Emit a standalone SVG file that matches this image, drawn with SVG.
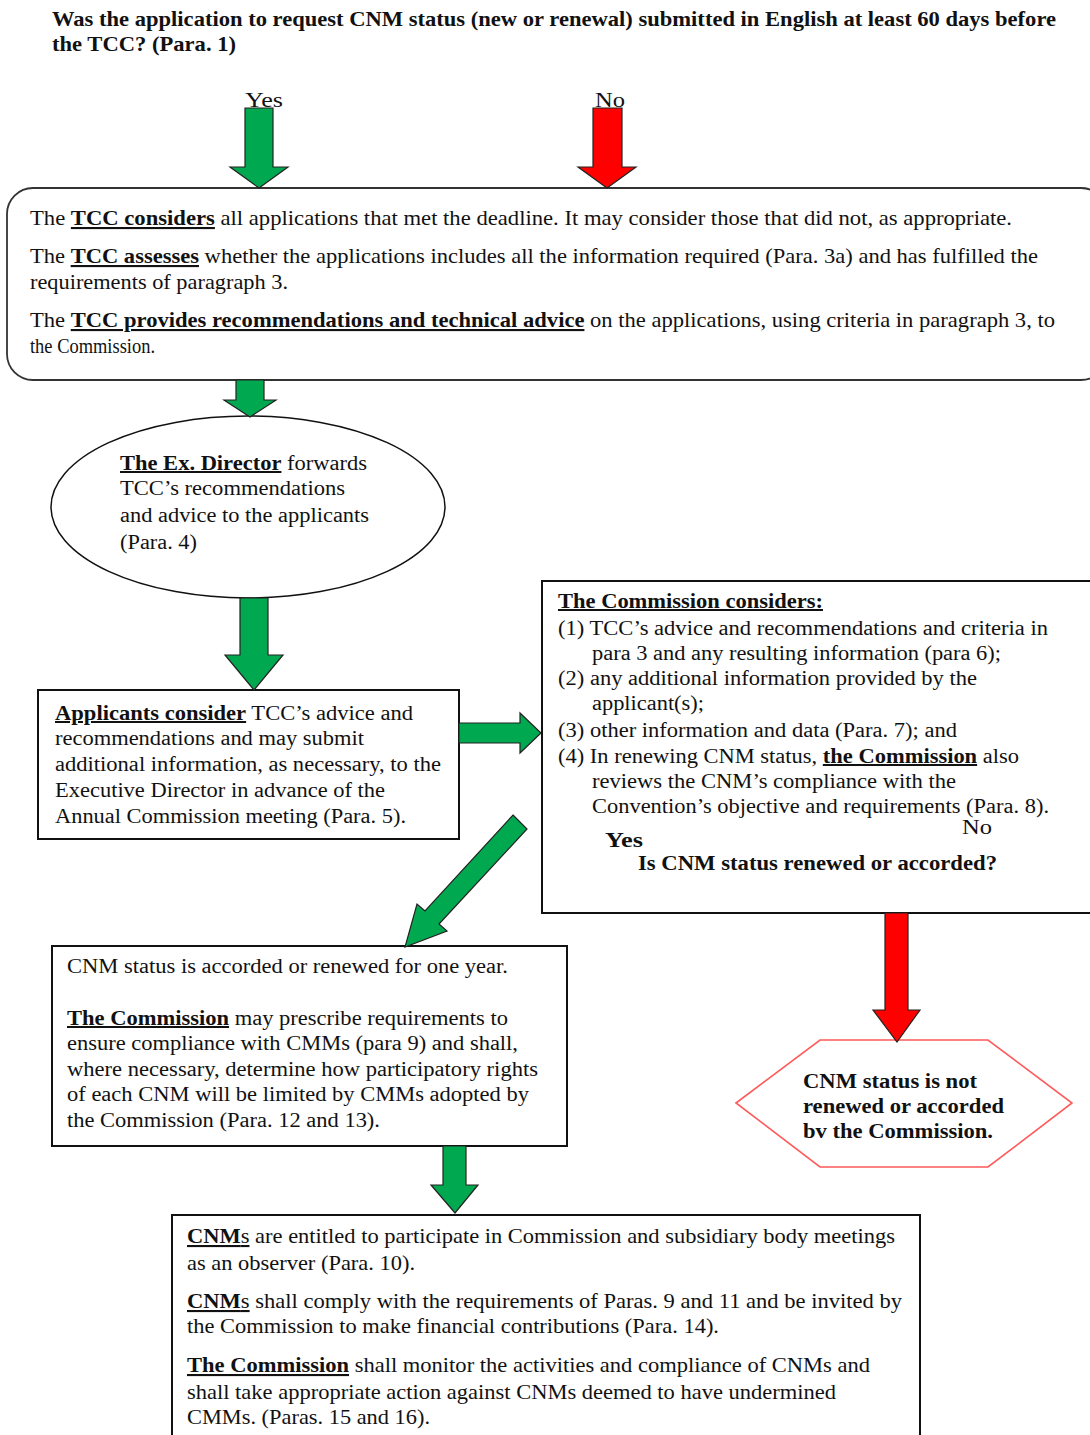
<svg xmlns="http://www.w3.org/2000/svg" width="1090" height="1435" viewBox="0 0 1090 1435">
<style>
.t{font-family:"Liberation Serif","Times New Roman",serif;font-size:20px;fill:#111}
.c{font-size:21px}
.b{font-weight:bold}
.u{text-decoration:underline}
.box{fill:#fff;stroke:#111;stroke-width:2}
.ga{fill:#00a94f;stroke:#222;stroke-width:1.2;stroke-linejoin:miter}
.ra{fill:#ff0000;stroke:#222;stroke-width:1.2;stroke-linejoin:miter}
</style>
<rect width="1090" height="1435" fill="#fff"/>

<g id="question">
<text class="t c b" x="52" y="26" textLength="1004" lengthAdjust="spacingAndGlyphs">Was the application to request CNM status (new or renewal) submitted in English at least 60 days before</text>
<text class="t c b" x="52" y="51" textLength="184" lengthAdjust="spacingAndGlyphs">the TCC? (Para. 1)</text>
<text class="t" x="245" y="107" style="font-size:22px" textLength="38" lengthAdjust="spacingAndGlyphs">Yes</text>
<text class="t" x="595" y="107" style="font-size:22px" textLength="30" lengthAdjust="spacingAndGlyphs">No</text>
</g>

<g id="tcc">
<rect class="box" x="7" y="188" width="1100" height="192" rx="26" style="stroke:#333;stroke-width:1.8"/>
<text class="t c" x="30" y="225" textLength="982" lengthAdjust="spacingAndGlyphs">The <tspan class="b u">TCC considers</tspan> all applications that met the deadline.  It may consider those that did not, as appropriate.</text>
<text class="t c" x="30" y="263" textLength="1008" lengthAdjust="spacingAndGlyphs">The <tspan class="b u">TCC assesses</tspan> whether the applications includes all the information required (Para. 3a) and has fulfilled the</text>
<text class="t c" x="30" y="289" textLength="258" lengthAdjust="spacingAndGlyphs">requirements of paragraph 3.</text>
<text class="t c" x="30" y="327" textLength="1025" lengthAdjust="spacingAndGlyphs">The <tspan class="b u">TCC provides recommendations and technical advice</tspan> on the applications, using criteria in paragraph 3, to</text>
<text class="t c" x="30" y="353" textLength="125" lengthAdjust="spacingAndGlyphs">the Commission.</text>
</g>

<g id="exdirector">
<ellipse class="box" cx="248" cy="507" rx="197" ry="91" style="stroke-width:1.5"/>
<text class="t" x="120" y="470" textLength="247" lengthAdjust="spacingAndGlyphs"><tspan class="b u">The Ex. Director</tspan> forwards</text>
<text class="t" x="120" y="495" textLength="225" lengthAdjust="spacingAndGlyphs">TCC’s recommendations</text>
<text class="t" x="120" y="522" textLength="249" lengthAdjust="spacingAndGlyphs">and advice to the applicants</text>
<text class="t" x="120" y="549" textLength="77" lengthAdjust="spacingAndGlyphs">(Para. 4)</text>
</g>

<g id="applicants">
<rect class="box" x="38" y="690" width="421" height="149"/>
<text class="t" x="55" y="720" textLength="358" lengthAdjust="spacingAndGlyphs"><tspan class="b u">Applicants consider</tspan> TCC’s advice and</text>
<text class="t" x="55" y="745" textLength="309" lengthAdjust="spacingAndGlyphs">recommendations and may submit</text>
<text class="t" x="55" y="771" textLength="386" lengthAdjust="spacingAndGlyphs">additional information, as necessary, to the</text>
<text class="t" x="55" y="797" textLength="330" lengthAdjust="spacingAndGlyphs">Executive Director in advance of the</text>
<text class="t" x="55" y="823" textLength="351" lengthAdjust="spacingAndGlyphs">Annual Commission meeting (Para. 5).</text>
</g>

<g id="commission">
<rect class="box" x="542" y="581" width="560" height="332"/>
<text class="t b u" x="558" y="608" textLength="265" lengthAdjust="spacingAndGlyphs">The Commission considers:</text>
<text class="t" x="558" y="635" textLength="490" lengthAdjust="spacingAndGlyphs">(1) TCC’s advice and recommendations and criteria in</text>
<text class="t" x="592" y="660" textLength="409" lengthAdjust="spacingAndGlyphs">para 3 and any resulting information (para 6);</text>
<text class="t" x="558" y="685" textLength="419" lengthAdjust="spacingAndGlyphs">(2) any additional information provided by the</text>
<text class="t" x="592" y="710" textLength="112" lengthAdjust="spacingAndGlyphs">applicant(s);</text>
<text class="t" x="558" y="737" textLength="399" lengthAdjust="spacingAndGlyphs">(3) other information and data (Para. 7); and</text>
<text class="t" x="558" y="763" textLength="461" lengthAdjust="spacingAndGlyphs">(4) In renewing CNM status, <tspan class="b u">the Commission</tspan> also</text>
<text class="t" x="592" y="788" textLength="364" lengthAdjust="spacingAndGlyphs">reviews the CNM’s compliance with the</text>
<text class="t" x="592" y="813" textLength="457" lengthAdjust="spacingAndGlyphs">Convention’s objective and requirements (Para. 8).</text>
<text class="t" x="962" y="834" textLength="30" lengthAdjust="spacingAndGlyphs">No</text>
<text class="t b" x="605" y="847" style="font-size:22px" textLength="38" lengthAdjust="spacingAndGlyphs">Yes</text>
<text class="t b" x="638" y="870" textLength="359" lengthAdjust="spacingAndGlyphs">Is CNM status renewed or accorded?</text>
</g>

<g id="accorded">
<rect class="box" x="52" y="946" width="515" height="200"/>
<text class="t" x="67" y="973" textLength="441" lengthAdjust="spacingAndGlyphs">CNM status is accorded or renewed for one year.</text>
<text class="t" x="67" y="1025" textLength="441" lengthAdjust="spacingAndGlyphs"><tspan class="b u">The Commission</tspan> may prescribe requirements to</text>
<text class="t" x="67" y="1050" textLength="451" lengthAdjust="spacingAndGlyphs">ensure compliance with CMMs (para 9) and shall,</text>
<text class="t" x="67" y="1076" textLength="471" lengthAdjust="spacingAndGlyphs">where necessary, determine how participatory rights</text>
<text class="t" x="67" y="1101" textLength="462" lengthAdjust="spacingAndGlyphs">of each CNM will be limited by CMMs adopted by</text>
<text class="t" x="67" y="1127" textLength="313" lengthAdjust="spacingAndGlyphs">the Commission (Para. 12 and 13).</text>
</g>

<g id="notaccorded">
<polygon points="736,1103 820,1040 988,1040 1072,1103 988,1167 820,1167" fill="#fff" stroke="#ff5a5a" stroke-width="1.6"/>
<text class="t b" x="803" y="1088" textLength="174" lengthAdjust="spacingAndGlyphs">CNM status is not</text>
<text class="t b" x="803" y="1113" textLength="201" lengthAdjust="spacingAndGlyphs">renewed or accorded</text>
<text class="t b" x="803" y="1138" textLength="190" lengthAdjust="spacingAndGlyphs">bv the Commission.</text>
</g>

<g id="participation">
<rect class="box" x="172" y="1215" width="748" height="240"/>
<text class="t c" x="187" y="1243" textLength="708" lengthAdjust="spacingAndGlyphs"><tspan class="b u">CNM</tspan><tspan class="u">s</tspan> are entitled to participate in Commission and subsidiary body meetings</text>
<text class="t c" x="187" y="1270" textLength="228" lengthAdjust="spacingAndGlyphs">as an observer (Para. 10).</text>
<text class="t c" x="187" y="1308" textLength="715" lengthAdjust="spacingAndGlyphs"><tspan class="b u">CNM</tspan><tspan class="u">s</tspan> shall comply with the requirements of Paras. 9 and 11 and be invited by</text>
<text class="t c" x="187" y="1333" textLength="532" lengthAdjust="spacingAndGlyphs">the Commission to make financial contributions (Para. 14).</text>
<text class="t c" x="187" y="1372" textLength="683" lengthAdjust="spacingAndGlyphs"><tspan class="b u">The Commission</tspan> shall monitor the activities and compliance of CNMs and</text>
<text class="t c" x="187" y="1399" textLength="649" lengthAdjust="spacingAndGlyphs">shall take appropriate action against CNMs deemed to have undermined</text>
<text class="t c" x="187" y="1424" textLength="243" lengthAdjust="spacingAndGlyphs">CMMs. (Paras. 15 and 16).</text>
</g>

<g id="connectors">
<polygon class="ga" points="245,108 273,108 273,167 288,167 259,188 230,167 245,167"/>
<polygon class="ra" points="593,108 622,108 622,167 636,167 607,188 578,167 593,167"/>
<polygon class="ga" points="236,380 264,380 264,400 276,400 250,417 224,400 236,400"/>
<polygon class="ga" points="240,598 268,598 268,655 283,655 254,690 225,655 240,655"/>
<polygon class="ga" points="459,723 520,723 520,713 541,733 520,753 520,743 459,743"/>
<polygon class="ga" points="513,815 527,829 439,924 447,931 405,947 417,904 425,911"/>
<polygon class="ra" points="885,913 908,913 908,1010 920,1010 897,1042 873,1010 885,1010"/>
<polygon class="ga" points="443,1146 466,1146 466,1185 478,1185 455,1213 431,1185 443,1185"/>
</g>
</svg>
